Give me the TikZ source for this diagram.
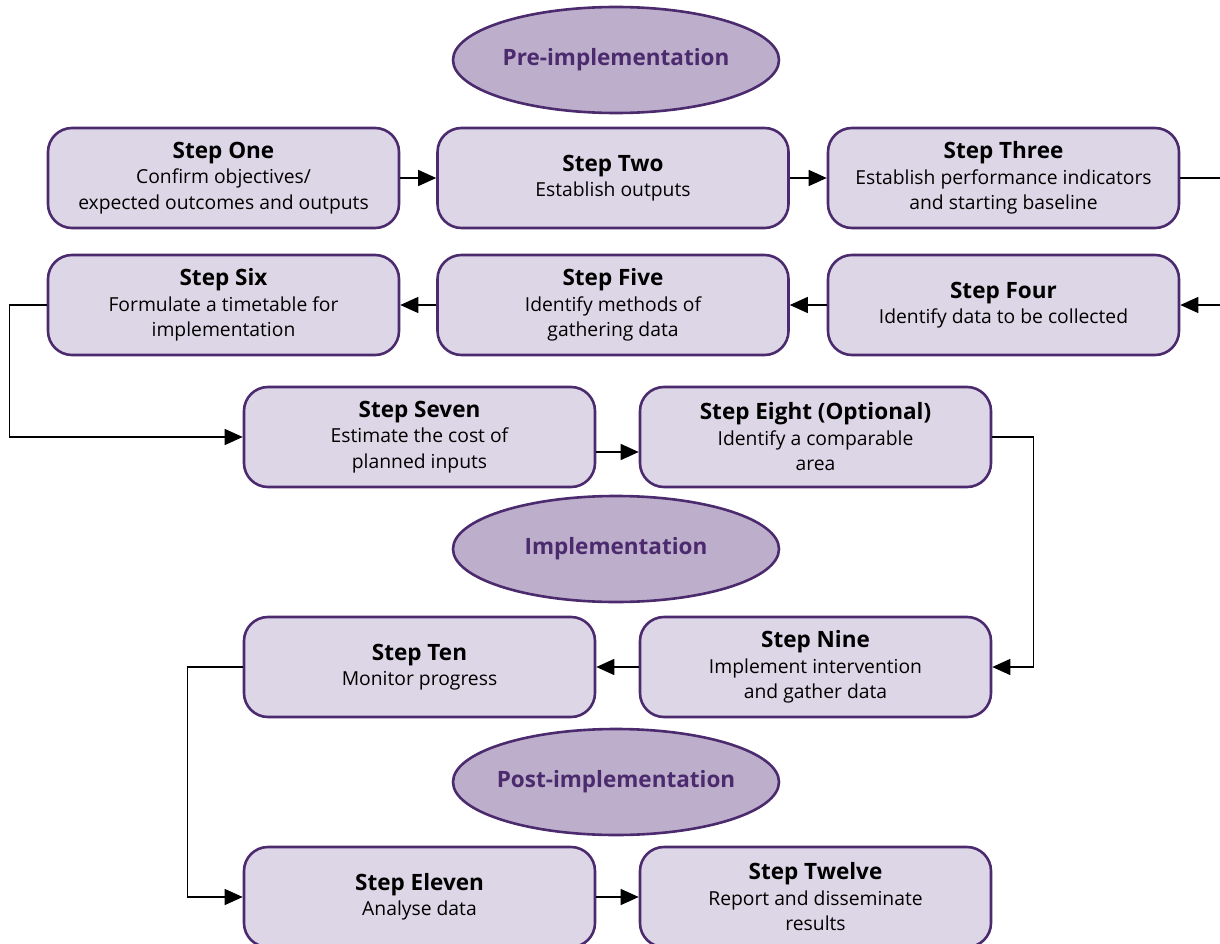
\documentclass[tikz,border=0pt]{standalone}
\usepackage{fontspec}
\setmainfont{Open Sans}
\usetikzlibrary{positioning,shapes.geometric,arrows.meta}
\definecolor{stepfill}{HTML}{DDD6E7}
\definecolor{stepline}{HTML}{4B2A6E}
\definecolor{phasefill}{HTML}{BDAFCB}
\newcommand\steptitle{\bfseries\fontsize{22.5}{26}\selectfont}

\begin{document}
\begin{tikzpicture}[x=1pt,y=-1pt,
  stepbox/.style={draw=stepline,fill=stepfill,line width=2.6pt,rounded corners=24pt,
    minimum width=351pt,minimum height=100pt,inner sep=0pt,align=center,
    font=\fontsize{19.3}{25.5}\selectfont},
  phase/.style={ellipse,draw=stepline,fill=phasefill,line width=2.6pt,inner ysep=0pt,
    inner xsep=-40pt,minimum width=326pt,minimum height=106pt,text=stepline,
    font=\bfseries\fontsize{22.5}{26}\selectfont},
  link/.style={line width=1.4pt,-{Triangle[length=18pt,width=16pt]}},
  plain/.style={line width=1.4pt}]
  \useasboundingbox (0,0) rectangle (1220,944);

  % phases
  \node[phase](pre) at (616,60){Pre-implementation};
  \node[phase](impl) at (616,549){Implementation};
  \node[phase](post) at (616,782){Post-implementation};

  % pre-implementation steps
  \node[stepbox](one) at (223.5,178){{\steptitle Step One}\\Confirm objectives/\\expected outcomes and outputs};
  \node[stepbox](two) at (613,178){{\steptitle Step Two}\\Establish outputs};
  \node[stepbox](three) at (1003.5,178){{\steptitle Step Three}\\Establish performance indicators\\and starting baseline};
  \node[stepbox](four) at (1003.5,305){{\steptitle Step Four}\\Identify data to be collected};
  \node[stepbox](five) at (613,305){{\steptitle Step Five}\\Identify methods of\\gathering data};
  \node[stepbox](six) at (223.5,305){{\steptitle Step Six}\\Formulate a timetable for\\implementation};
  \node[stepbox](seven) at (419.5,437){{\steptitle Step Seven}\\Estimate the cost of\\planned inputs};
  \node[stepbox](eight) at (815.5,437){{\steptitle Step Eight (Optional)}\\Identify a comparable\\area};

  % implementation
  \node[stepbox](nine) at (815.5,667){{\steptitle Step Nine}\\Implement intervention\\and gather data};
  \node[stepbox](ten) at (419.5,667){{\steptitle Step Ten}\\Monitor progress};

  % post-implementation
  \node[stepbox](eleven) at (419.5,897){{\steptitle Step Eleven}\\Analyse data};
  \node[stepbox](twelve) at (815.5,897){{\steptitle Step Twelve}\\Report and disseminate\\results};

  \coordinate (outr) at (1220,177);
  \coordinate (inr) at (1220,304);

  \draw[link] (one) -- (two);
  \draw[link] (two) -- (three);
  \draw[plain] (three.east) -- (three.east -| outr);
  \draw[link] (inr |- four.east) -- (four.east);
  \draw[link] (four) -- (five);
  \draw[link] (five) -- (six);
  \draw[link] (six.west) -- ++(-37,0) |- (seven.west);
  \draw[link] ([yshift=-15pt]seven.east) -- ([yshift=-15pt]eight.west);
  \draw[link] (eight.east) -- ++(41,0) |- (nine.east);
  \draw[link] (nine) -- (ten);
  \draw[link] (ten.west) -- ++(-55,0) |- (eleven.west);
  \draw[link] (eleven) -- (twelve);
\end{tikzpicture}
\end{document}
